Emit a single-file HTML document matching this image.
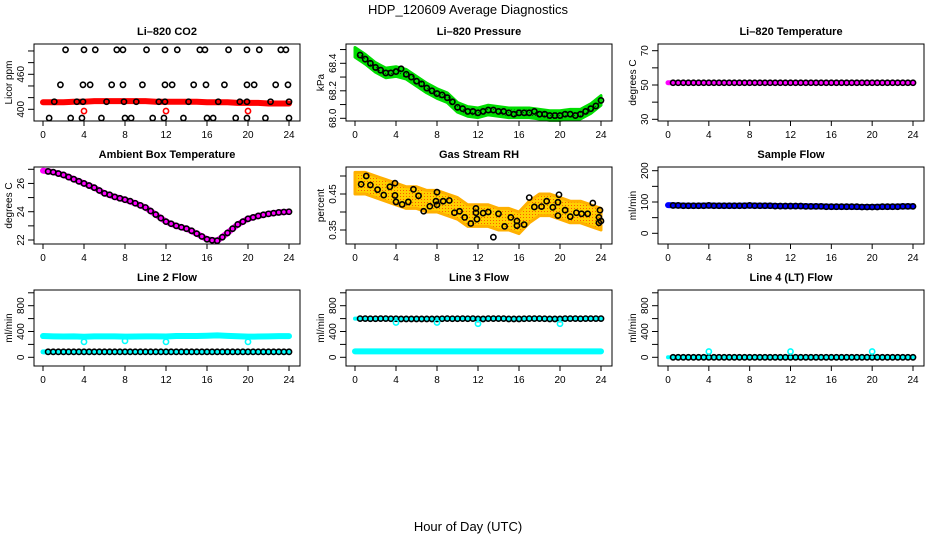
<!DOCTYPE html>
<html><head><meta charset="utf-8"><style>
html,body{margin:0;padding:0;background:#fff;}
svg{display:block;font-family:"Liberation Sans",Arial,sans-serif;}
</style></head><body>
<svg id="c" width="936" height="540" viewBox="0 0 936 540">
<defs>
<pattern id="pg" width="3" height="3" patternUnits="userSpaceOnUse"><rect width="3" height="3" fill="#00dd00"/><rect x="1" y="1" width="1" height="1" fill="#114411"/></pattern>
<pattern id="po" width="3" height="3" patternUnits="userSpaceOnUse"><rect width="3" height="3" fill="#ffd000"/><rect x="1" y="1" width="1" height="1" fill="#ff5a00"/></pattern>
</defs>
<text x="468" y="14" font-size="13" text-anchor="middle">HDP_120609  Average Diagnostics</text>
<text x="468" y="531" font-size="13" text-anchor="middle">Hour of Day (UTC)</text>
</svg>
<script>
// ---- data ----
const hours = [0,1,2,3,4,5,6,7,8,9,10,11,12,13,14,15,16,17,18,19,20,21,22,23,24];
const halfHours = [0.5,1,1.5,2,2.5,3,3.5,4,4.5,5,5.5,6,6.5,7,7.5,8,8.5,9,9.5,10,10.5,11,11.5,12,12.5,13,13.5,14,14.5,15,15.5,16,16.5,17,17.5,18,18.5,19,19.5,20,20.5,21,21.5,22,22.5,23,23.5,24];
const xTicks = [0,4,8,12,16,20,24];
// CO2
const co2Red = [412,412,412,413,413,414,414,414,414,414,414,413,413,413,413,413,412,412,412,411,411,411,410,410,410];
const co2BlkX = [2.2,4.0,5.1,7.2,7.8,10.1,11.9,13.1,15.3,15.8,18.1,19.9,21.1,23.2,23.7, 1.7,3.9,4.6,6.7,7.8,9.7,11.9,12.6,14.7,15.9,17.7,19.9,20.6,22.7,23.9, 1.1,3.3,3.9,6.2,7.9,9.1,11.3,11.9,14.2,17.1,19.2,19.9,22.2,24.0, 0.6,2.7,3.8,5.7,8.0,8.6,10.7,11.8,13.7,16.0,16.6,18.8,19.9,21.7,24.0];
const co2BlkY = [502,502,502,502,502,502,502,502,502,502,502,502,502,502,502, 442,442,442,442,442,442,442,442,442,442,442,442,442,442,442, 413,413,413,413,413,413,413,413,413,413,413,413,413,413, 385,385,385,385,385,385,385,385,385,385,385,385,385,385,385];
const co2RedX = [4,12,20];
const co2RedY = [397,397,397];
// Pressure
const pres = [68.48,68.43,68.37,68.33,68.34,68.32,68.27,68.22,68.18,68.15,68.08,68.05,68.04,68.06,68.05,68.04,68.04,68.04,68.03,68.02,68.02,68.03,68.03,68.07,68.13];
const presHalf = [68.46,68.43,68.40,68.37,68.35,68.33,68.33,68.34,68.36,68.32,68.30,68.27,68.25,68.22,68.20,68.18,68.17,68.15,68.12,68.08,68.07,68.05,68.05,68.04,68.05,68.06,68.06,68.05,68.05,68.04,68.03,68.04,68.04,68.04,68.05,68.03,68.03,68.02,68.02,68.02,68.03,68.03,68.02,68.03,68.05,68.07,68.09,68.13];
// Li-820 temp
const ltemp = [51.3,51.3,51.3,51.3,51.3,51.3,51.3,51.3,51.3,51.3,51.3,51.3,51.3,51.3,51.3,51.3,51.3,51.3,51.3,51.3,51.3,51.3,51.3,51.3,51.3];
const ltempHalf = [51.3,51.3,51.3,51.3,51.3,51.3,51.3,51.3,51.3,51.3,51.3,51.3,51.3,51.3,51.3,51.3,51.3,51.3,51.3,51.3,51.3,51.3,51.3,51.3,51.3,51.3,51.3,51.3,51.3,51.3,51.3,51.3,51.3,51.3,51.3,51.3,51.3,51.3,51.3,51.3,51.3,51.3,51.3,51.3,51.3,51.3,51.3,51.3];
// Ambient
const amb = [26.9,26.8,26.6,26.3,26.0,25.7,25.3,25.05,24.85,24.6,24.3,23.8,23.3,23.0,22.8,22.45,22.05,21.95,22.5,23.1,23.5,23.7,23.85,23.95,24.0];
const ambHalf = [26.85,26.8,26.7,26.6,26.45,26.3,26.15,26.0,25.85,25.7,25.5,25.3,25.2,25.05,24.95,24.85,24.75,24.6,24.45,24.3,24.05,23.8,23.55,23.3,23.15,23.0,22.9,22.8,22.65,22.45,22.25,22.05,21.98,21.95,22.2,22.5,22.8,23.1,23.3,23.5,23.6,23.7,23.78,23.85,23.9,23.95,23.98,24.0];
// RH
const rhMid = [0.48,0.48,0.47,0.46,0.45,0.44,0.44,0.43,0.43,0.42,0.41,0.39,0.39,0.39,0.38,0.38,0.37,0.40,0.42,0.42,0.41,0.40,0.40,0.39,0.38];
const rhX = [0.6,1.1,1.5,2.2,2.8,3.4,3.9,3.9,4,4.6,5.2,5.7,6.2,6.7,7.3,7.9,8,8,8.6,9.2,9.7,10.2,10.7,11.3,11.8,11.8,11.9,12.5,13,13.5,14,14.6,15.2,15.8,15.8,16.5,17,17.5,18.2,18.7,19.3,19.8,19.9,19.8,20.5,21,21.6,22.1,22.7,23.2,23.8,23.8,23.9,24];
const rhY = [0.477,0.5,0.475,0.462,0.447,0.47,0.48,0.446,0.428,0.421,0.428,0.463,0.445,0.402,0.416,0.43,0.455,0.42,0.43,0.432,0.398,0.402,0.385,0.368,0.41,0.398,0.38,0.397,0.4,0.33,0.395,0.36,0.385,0.375,0.362,0.365,0.44,0.414,0.415,0.43,0.413,0.427,0.448,0.39,0.405,0.387,0.398,0.395,0.395,0.425,0.385,0.37,0.405,0.375];
// Sample flow
const sflow = [90,89,88,88,89,88,88,88,89,88,88,87,87,87,86,86,85,85,85,84,84,85,85,86,86];
const sflowHalf = [89,89,88,88,88,88,88,89,88,88,88,88,88,88,88,89,88,88,88,88,87,87,87,87,87,87,86,86,86,86,85,85,85,85,85,85,85,84,84,84,84,85,85,85,85,86,86,86];
// Line 2
const l2hi = [330,325,322,325,318,325,325,325,320,322,325,325,322,330,330,330,335,340,332,326,320,322,325,328,328];
const l2lo = [85,85,85,85,85,85,85,85,85,85,85,85,85,85,85,85,85,85,85,85,85,85,85,85,85];
const l2loHalf = [85,85,85,85,85,85,85,85,85,85,85,85,85,85,85,85,85,85,85,85,85,85,85,85,85,85,85,85,85,85,85,85,85,85,85,85,85,85,85,85,85,85,85,85,85,85,85,85];
const l2dipX = [4,8,12,20];
const l2dipY = [240,255,240,240];
// Line 3
const l3hi = [600,600,598,600,598,595,595,595,595,600,598,600,595,600,600,595,595,600,600,595,595,600,600,600,600];
const l3hiHalf = [600,600,598,598,600,600,598,598,595,595,595,595,595,595,595,595,598,600,598,598,600,598,600,595,595,600,600,600,600,595,595,595,598,600,600,600,598,595,595,595,600,600,600,598,600,600,600,600];
const l3lo = [92,92,92,92,92,92,92,92,92,92,92,92,92,92,92,92,92,92,92,92,92,92,92,92,92];
const l3dipX = [4,8,12,20];
const l3dipY = [540,540,520,520];
// Line 4
const l4 = [0,0,0,0,0,0,0,0,0,0,0,0,0,0,0,0,0,0,0,0,0,0,0,0,0];
const l4Half = [0,0,0,0,0,0,0,0,0,0,0,0,0,0,0,0,0,0,0,0,0,0,0,0,0,0,0,0,0,0,0,0,0,0,0,0,0,0,0,0,0,0,0,0,0,0,0,0];
const l4blipX = [4,12,20];
const l4blipY = [90,90,90];

// ---- layout ----
const svg = document.getElementById('c');
const NS = 'http://www.w3.org/2000/svg';
function el(tag, attrs, parent){const e=document.createElementNS(NS,tag);for(const k in attrs)e.setAttribute(k,attrs[k]);(parent||svg).appendChild(e);return e;}
const cols=[{l:34,r:300,x0:43,x24:289},{l:346,r:612,x0:355,x24:601},{l:658,r:924,x0:668,x24:913}];
const rows=[{t:44,b:121,title:35},{t:167,b:244,title:158},{t:290,b:366,title:281}];

function panel(name,ci,ri,title,ylab,v1,p1,v2,p2,yt,ylabels,draw){
  const c=cols[ci],r=rows[ri];
  const g=el('g',{});
  
  
  const X=h=>c.x0+(c.x24-c.x0)*h/24;
  const Y=v=>p1+(p2-p1)*(v-v1)/(v2-v1);
  const t=el('text',{x:(c.l+c.r)/2,y:r.title,'font-size':11,'font-weight':'bold','text-anchor':'middle'},g);t.textContent=title;
  
  
  const clip=el('g',{},g);
  draw(clip,X,Y);
  const box=el('rect',{x:c.l,y:r.t,width:c.r-c.l,height:r.b-r.t,fill:'none',stroke:'#000','stroke-width':1},g);
  
  
  xTicks.forEach(h=>{el('line',{x1:X(h),x2:X(h),y1:r.b,y2:r.b+5,stroke:'#000'},g);
    const tx=el('text',{x:X(h),y:r.b+17,'font-size':10,'text-anchor':'middle'},g);tx.textContent=h;
    
    });
  el('line',{x1:X(0),x2:X(24),y1:r.b,y2:r.b,stroke:'#000'},g);
  yt.forEach(v=>el('line',{x1:c.l-6,x2:c.l,y1:Y(v),y2:Y(v),stroke:'#000'},g));
  el('line',{x1:c.l,x2:c.l,y1:Y(yt[0]),y2:Y(yt[yt.length-1]),stroke:'#000'},g);
  ylabels.forEach(([v,s])=>{const ty=el('text',{x:0,y:0,'font-size':10,'text-anchor':'middle',transform:`translate(${c.l-10},${Y(v)}) rotate(-90)`},g);ty.textContent=s;
    
    });
  const yl=el('text',{x:0,y:0,'font-size':10,'text-anchor':'middle',transform:`translate(${c.l-22},${(r.t+r.b)/2}) rotate(-90)`},g);yl.textContent=ylab;
  
  
}
function thick(g,X,Y,vals,color,w,nm){const pts=hours.map((h,i)=>X(h)+','+Y(vals[i])).join(' ');
  const p=el('polyline',{points:pts,fill:'none',stroke:color,'stroke-width':w,'stroke-linejoin':'round','stroke-linecap':'round'},g);
  
  }
function circles(g,X,Y,xs,ys,color,nm){xs.forEach((h,i)=>{const c=el('circle',{cx:X(h),cy:Y(ys[i]),r:2.6,fill:'none',stroke:color,'stroke-width':1.6},g);
  
  });}
function band(g,X,Y,vals,half,fill,nm){const up=hours.map((h,i)=>X(h)+','+Y(vals[i]+half));const dn=hours.map((h,i)=>X(h)+','+Y(vals[i]-half)).reverse();
  const p=el('polygon',{points:up.concat(dn).join(' '),fill:fill,stroke:fill==='url(#pg)'?'#00dd00':'#ffb000','stroke-width':3,'stroke-linejoin':'round'},g);
  
  }

panel('co2',0,0,'Li\u2013820 CO2','Licor ppm',400,109.3,460,74.3,[400,420,440,460,480,500],[[400,'400'],[460,'460']],(g,X,Y)=>{
  thick(g,X,Y,co2Red,'#ff0000',6,'co2-red-series');
  circles(g,X,Y,co2BlkX,co2BlkY,'#000','co2-point');
  circles(g,X,Y,co2RedX,co2RedY,'#ff0000','co2-red-point');
});
panel('pressure',1,0,'Li\u2013820 Pressure','kPa',68.0,118.3,68.4,63.3,[68.0,68.1,68.2,68.3,68.4,68.5],[[68.0,'68.0'],[68.2,'68.2'],[68.4,'68.4']],(g,X,Y)=>{
  band(g,X,Y,pres,0.035,'url(#pg)','pressure-band');
  circles(g,X,Y,halfHours,presHalf,'#000','pressure-point');
});
panel('li-temp',2,0,'Li\u2013820 Temperature','degrees C',30,119.3,70,50.7,[30,40,50,60,70],[[30,'30'],[50,'50'],[70,'70']],(g,X,Y)=>{
  thick(g,X,Y,ltemp,'#ff00ff',5,'li-temp-series');
  circles(g,X,Y,halfHours,ltempHalf,'#000','li-temp-point');
});
panel('ambient',0,1,'Ambient Box Temperature','degrees C',22,240,27,169.3,[22,23,24,25,26,27],[[22,'22'],[24,'24'],[26,'26']],(g,X,Y)=>{
  thick(g,X,Y,amb,'#ff00ff',6,'ambient-series');
  circles(g,X,Y,halfHours,ambHalf,'#000','ambient-point');
});
panel('rh',1,1,'Gas Stream RH','percent',0.45,194,0.35,230,[0.35,0.40,0.45,0.50],[[0.35,'0.35'],[0.45,'0.45']],(g,X,Y)=>{
  band(g,X,Y,rhMid,0.03,'url(#po)','rh-band');
  circles(g,X,Y,rhX,rhY,'#000','rh-point');
});
panel('sample-flow',2,1,'Sample Flow','ml/min',0,233.3,200,170.7,[0,50,100,150,200],[[0,'0'],[100,'100'],[200,'200']],(g,X,Y)=>{
  thick(g,X,Y,sflow,'#0000ff',6,'sample-flow-series');
  circles(g,X,Y,halfHours,sflowHalf,'#000','sample-flow-point');
});
panel('line2',0,2,'Line 2 Flow','ml/min',0,357.3,800,305.7,[0,200,400,600,800,1000],[[0,'0'],[400,'400'],[800,'800']],(g,X,Y)=>{
  thick(g,X,Y,l2hi,'#00ffff',6,'line2-upper-series');
  thick(g,X,Y,l2lo,'#00ffff',5,'line2-lower-series');
  circles(g,X,Y,halfHours,l2loHalf,'#000','line2-point');
  circles(g,X,Y,l2dipX,l2dipY,'#00ffff','line2-dip');
});
panel('line3',1,2,'Line 3 Flow','ml/min',0,357.3,800,305.7,[0,200,400,600,800,1000],[[0,'0'],[400,'400'],[800,'800']],(g,X,Y)=>{
  thick(g,X,Y,l3lo,'#00ffff',6,'line3-lower-series');
  thick(g,X,Y,l3hi,'#00ffff',4,'line3-upper-series');
  circles(g,X,Y,halfHours,l3hiHalf,'#000','line3-point');
  circles(g,X,Y,l3dipX,l3dipY,'#00ffff','line3-dip');
});
panel('line4',2,2,'Line 4 (LT) Flow','ml/min',0,357.3,800,305.7,[0,200,400,600,800,1000],[[0,'0'],[400,'400'],[800,'800']],(g,X,Y)=>{
  thick(g,X,Y,l4,'#00ffff',4,'line4-series');
  circles(g,X,Y,halfHours,l4Half,'#000','line4-point');
  circles(g,X,Y,l4blipX,l4blipY,'#00ffff','line4-blip');
});
</script>
</body></html>
